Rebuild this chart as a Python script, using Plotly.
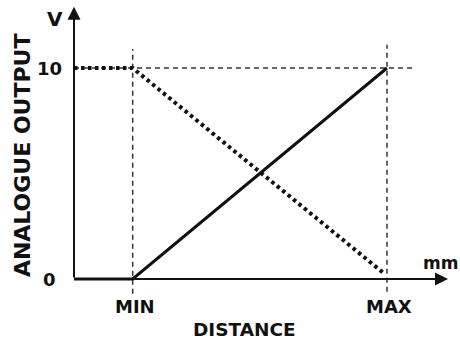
import plotly.graph_objects as go

# distance axis: MIN / MAX positions (arbitrary units)
tick_labels = ["MIN", "MAX"]
tick_pos = [15, 80]
y_ticks = [0, 10]

# rising output (solid) and falling output (dotted)
dist_rise = [0, 15, 80]
out_rise = [0, 0, 10]
dist_fall = [0, 15, 79]
out_fall = [10, 10, 0.3]

FONT = "DejaVu Sans"
INK = "#111111"

fig = go.Figure()
fig.add_trace(go.Scatter(x=dist_fall, y=out_fall, mode="lines",
                         line=dict(color=INK, width=4, dash="3.5px,3.5px")))
fig.add_trace(go.Scatter(x=dist_rise, y=out_rise, mode="lines",
                         line=dict(color=INK, width=3)))

# dashed guide lines
dash = dict(color="#333333", width=1.5, dash="5px,4px")
fig.add_shape(type="line", x0=0, x1=86.4, y0=y_ticks[1], y1=y_ticks[1], line=dash, layer="below")
fig.add_shape(type="line", x0=tick_pos[0], x1=tick_pos[0], y0=-0.7, y1=10.9, line=dash, layer="below")
fig.add_shape(type="line", x0=tick_pos[1], x1=tick_pos[1], y0=-0.6, y1=11.1, line=dash, layer="below")

# axes with arrow heads
for (x, y, ax, ay) in [(95.6, 0, 0, 0), (0, 12.9, 0, 0)]:
    fig.add_annotation(x=x, y=y, ax=ax, ay=ay, xref="x", yref="y", axref="x", ayref="y",
                       text="", showarrow=True, arrowhead=2, arrowsize=1.3,
                       arrowwidth=2, arrowcolor=INK, standoff=0)

lab = dict(family=FONT, size=18, color=INK, weight="bold")
for t, p in zip(tick_labels, tick_pos):
    fig.add_annotation(x=p + 0.5, y=-1.3, text=t, showarrow=False, font=lab)
for v in y_ticks:
    fig.add_annotation(x=-6.3, y=v, text=str(v), showarrow=False, font=lab)
fig.add_annotation(x=43.5, y=-2.4, text="DISTANCE", showarrow=False, borderpad=0,
                   font=dict(family=FONT, size=18.5, color=INK, weight="bold"))
fig.add_annotation(x=89, y=0.75, text="mm", showarrow=False, xanchor="left", borderpad=0,
                   font=dict(family=FONT, size=17, color=INK, weight="bold"))
fig.add_annotation(x=-4.9, y=12.3, text="V", showarrow=False, font=dict(family=FONT, size=20, color=INK, weight="bold"))
fig.add_annotation(x=-13.3, y=5.87, text="ANALOGUE OUTPUT", showarrow=False, textangle=-90,
                   font=dict(family=FONT, size=22, color=INK, weight="bold"))

fig.update_xaxes(visible=False, range=[-18.914, 98.66], fixedrange=True)
fig.update_yaxes(visible=False, range=[-2.986, 13.223], fixedrange=True)
fig.update_layout(width=460, height=342, margin=dict(l=0, r=0, t=0, b=0),
                  showlegend=False, plot_bgcolor="white", paper_bgcolor="white")
fig.write_html("out.html", config={"displayModeBar": False},
               post_script="document.body.style.margin='0';")
